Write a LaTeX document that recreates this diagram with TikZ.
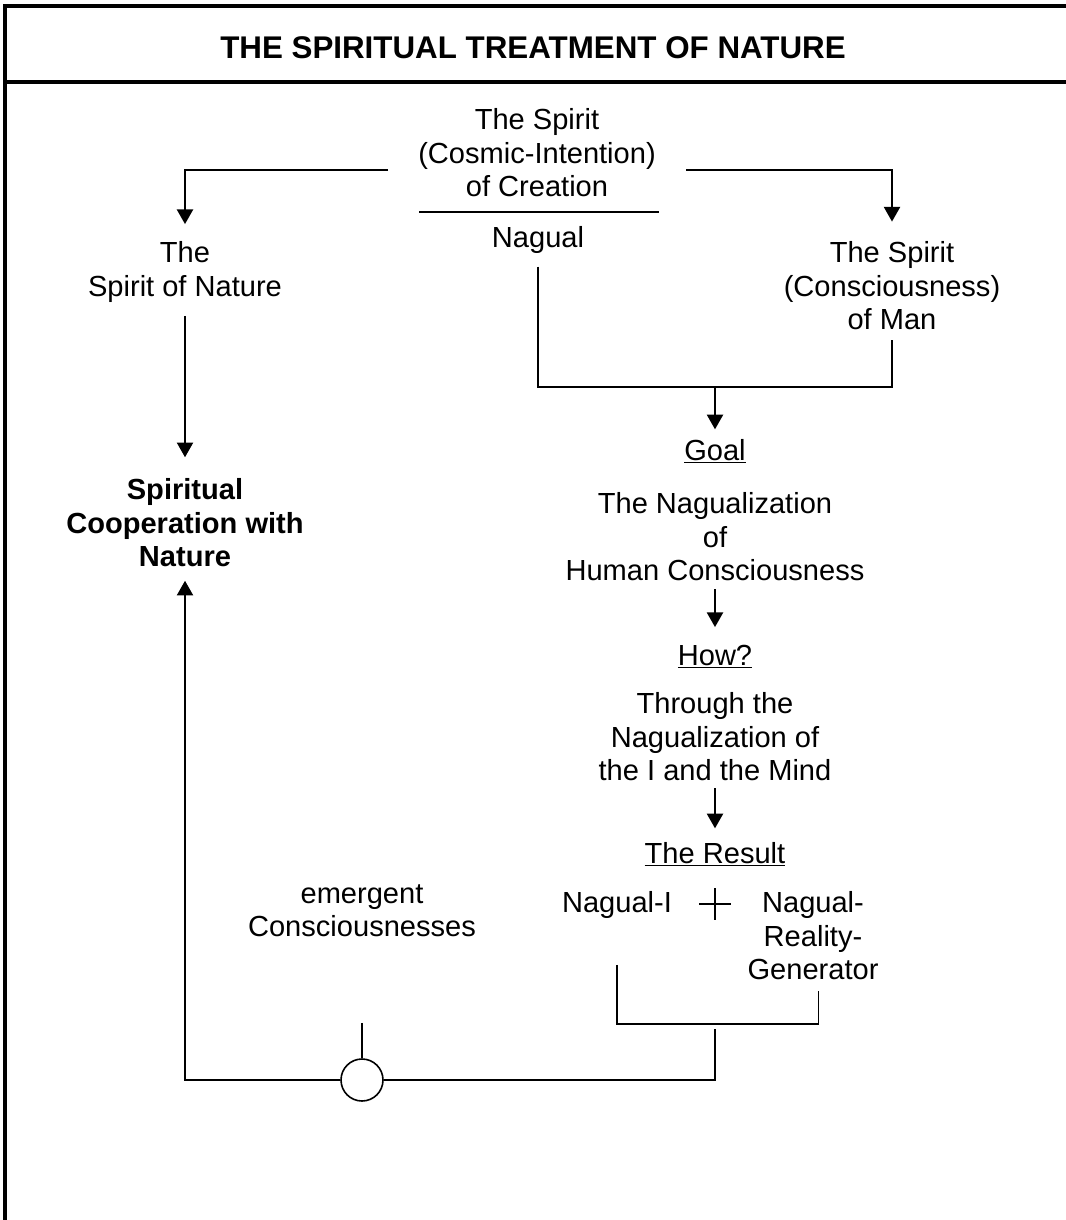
\documentclass[tikz,border=0pt]{standalone}
\usepackage{fontspec}
\setmainfont{Liberation Sans}
\usetikzlibrary{arrows.meta}

\begin{document}
\begin{tikzpicture}[x=0.75pt,y=-0.75pt,
  txt/.style={align=center,inner sep=0pt,font=\fontsize{21.8}{25.1}\selectfont},
  bold/.style={txt,font=\fontsize{21.8}{25.1}\selectfont\bfseries},
  ln/.style={line width=1.6pt},
  thinln/.style={line width=1.2pt},
  arr/.style={ln,-{Triangle[width=12pt,length=11pt]}}]
\useasboundingbox (0,0) rectangle (1066,1220);

\draw[line width=3pt] (1066,6) -- (5,6) -- (5,1220);
\draw[line width=3pt] (5,82) -- (1066,82);
\node[anchor=base,inner sep=0pt,font=\fontsize{23.5}{28}\selectfont\bfseries] (title) at (533,59) {THE SPIRITUAL TREATMENT OF NATURE};

\node[txt] (creation) at (537,153) {The Spirit\\(Cosmic-Intention)\\of Creation};
\draw[ln] (419,212) -- (659,212);
\node[txt,anchor=base] (nagual) at (538,247) {Nagual};
\coordinate (lstart) at (388,170);
\coordinate (rstart) at (686,170);

\node[txt] (natspirit) at (185,272) {The\\Spirit of Nature};
\node[txt] (manspirit) at (892,286) {The Spirit\\(Consciousness)\\of Man};
\node[bold] (coop) at (185,523) {Spiritual\\Cooperation with\\Nature};
\draw[arr,shorten >=13pt] (lstart) -| (natspirit.north);
\draw[arr,shorten >=15pt] (rstart) -| (manspirit.north);
\draw[arr,shorten <=10pt,shorten >=16pt] (natspirit.south) -- (coop.north);

\coordinate (fork) at (715,387);
\draw[ln] ([yshift=-10pt]nagual.south) |- (fork) -| ([yshift=-7.5pt]manspirit.south);
\node[txt,anchor=base] (goal) at (715,460) {\underline{Goal}};
\draw[arr,shorten >=7pt] (fork) -- (goal.north);
\node[txt] (nagualization) at (715,537) {The Nagualization\\of\\Human Consciousness};
\node[txt,anchor=base] (how) at (715,665) {\underline{How?}};
\draw[arr,shorten <=6pt,shorten >=13pt] (nagualization) -- (how);
\node[txt] (through) at (715,737) {Through the\\Nagualization of\\the I and the Mind};
\node[txt,anchor=base] (result) at (715,863) {\underline{The Result}};
\draw[arr,shorten <=5pt,shorten >=10pt] (through) -- (result);

\node[txt,anchor=base] (nagi) at (617,912) {Nagual-I};
\coordinate (plus) at (715,904);
\draw[thinln] ([xshift=-12pt]plus) -- ([xshift=12pt]plus) ([yshift=12pt]plus) -- ([yshift=-12pt]plus);
\node[txt] (generator) at (813,936) {Nagual-\\Reality-\\Generator};
\coordinate (brk) at (715,1024);
\draw[thinln] ([yshift=-35pt]nagi.south) |- (brk) -| ([xshift=4pt,yshift=-8pt]generator.south);

\node[draw,thinln,circle,minimum size=31.5pt,inner sep=0pt] (merge) at (362,1080) {};
\node[txt] (emergent) at (362,911) {emergent\\Consciousnesses};
\draw[thinln,shorten <=64pt] (emergent) -- (merge);
\draw[ln] ([yshift=-4pt]brk) |- (merge.east);
\draw[arr,shorten >=10pt] (merge.west) -| (coop.south);
\end{tikzpicture}
\end{document}
